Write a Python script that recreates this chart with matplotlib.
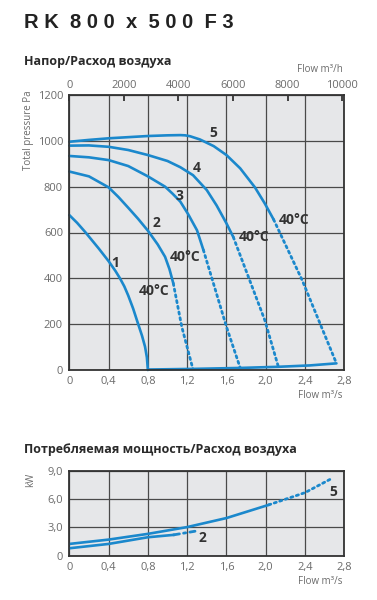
import matplotlib
matplotlib.use("Agg")
from matplotlib import pyplot as plt

plt.rcParams['font.family'] = ['Open Sans', 'DejaVu Sans']

# --- pressure / flow curves (flow m3/s, pressure Pa) ---
c1_q = [0, 0.08, 0.16, 0.3, 0.4, 0.47, 0.516, 0.56, 0.6, 0.65, 0.703, 0.74, 0.771, 0.79, 0.8]
c1_p = [676, 642, 603, 530, 475, 432, 400, 365, 325, 268, 198, 150, 102, 55, 0]

c2_q = [0, 0.2, 0.4, 0.5, 0.6, 0.7, 0.8, 0.9, 0.975, 1.02, 1.059]
c2_p = [866, 845, 797, 755, 708, 660, 608, 548, 494, 440, 378]
c2_dq = [1.059, 1.145, 1.26]
c2_dp = [378, 189, 2]

c3_q = [0, 0.2, 0.4, 0.6, 0.8, 0.975, 1.05, 1.13, 1.21, 1.3, 1.365]
c3_p = [934, 928, 916, 890, 845, 800, 770, 735, 680, 610, 524]
c3_dq = [1.365, 1.6, 1.738]
c3_dp = [524, 189, 12]

c4_q = [0, 0.2, 0.4, 0.6, 0.8, 1.0, 1.13, 1.26, 1.4, 1.5, 1.6, 1.67]
c4_p = [979, 980, 974, 960, 938, 912, 885, 850, 785, 718, 640, 580]
c4_dq = [1.67, 1.99, 2.13]
c4_dp = [580, 218, 12]

c5_q = [0, 0.2, 0.4, 0.6, 0.8, 1.0, 1.13, 1.18, 1.23, 1.33, 1.47, 1.6, 1.74, 1.89, 1.99, 2.08]
c5_p = [996, 1004, 1011, 1016, 1021, 1024, 1025, 1024, 1020, 1006, 977, 938, 880, 797, 727, 657]
c5_dq = [2.08, 2.37, 2.72]
c5_dp = [657, 393, 29]

sys_q = [0.8, 1.28, 1.74, 2.13, 2.45, 2.72]
sys_p = [2, 5, 9, 14, 20, 29]

# --- power / flow (kW) ---
w5_q = [0, 0.4, 0.8, 1.2, 1.6, 2.03]
w5_p = [1.25, 1.71, 2.32, 3.04, 4.0, 5.4]
w5_dq = [2.03, 2.4, 2.66]
w5_dp = [5.4, 6.7, 8.14]

w2_q = [0, 0.4, 0.8, 1.06]
w2_p = [0.79, 1.25, 1.96, 2.21]
w2_dq = [1.06, 1.28]
w2_dp = [2.21, 2.6]

x_ticks = [0, 0.4, 0.8, 1.2, 1.6, 2.0, 2.4, 2.8]
x_labels = ['0', '0,4', '0,8', '1,2', '1,6', '2,0', '2,4', '2,8']
p_ticks = [0, 200, 400, 600, 800, 1000, 1200]
kw_ticks = [0, 3, 6, 9]
kw_labels = ['0', '3,0', '6,0', '9,0']
mh_ticks = [0, 2000, 4000, 6000, 8000, 10000]

blue = '#1b88cc'
grey_txt = '#6b6b6b'
dark = '#333333'
face = '#e6e7e9'
dots = (0, (0.8, 1.3))

fig = plt.figure(figsize=(3.77, 6.0), dpi=100)
W, H = 377, 600


def style(ax):
    ax.set_facecolor(face)
    ax.grid(True, color='#4a4a4a', lw=0.9)
    ax.set_axisbelow(True)
    for s in ax.spines.values():
        s.set_color(dark)
        s.set_linewidth(1.3)
    ax.tick_params(length=0, labelsize=8, colors=grey_txt, pad=4.5)
    ax.set_xlim(0, 2.8)
    ax.set_xticks(x_ticks)
    ax.set_xticklabels(x_labels)


# top chart
ax = fig.add_axes([69.3 / W, 1 - 370 / H, 275 / W, 275 / H])
style(ax)
ax.set_ylim(0, 1200)
ax.set_yticks(p_ticks)

for q, p in [(c1_q, c1_p), (c2_q, c2_p), (c3_q, c3_p), (c4_q, c4_p), (c5_q, c5_p), (sys_q, sys_p)]:
    ax.plot(q, p, color=blue, lw=1.9, solid_capstyle='round', solid_joinstyle='round', clip_on=False)
for q, p in [(c2_dq, c2_dp), (c3_dq, c3_dp), (c4_dq, c4_dp), (c5_dq, c5_dp)]:
    ax.plot(q, p, color=blue, lw=2.0, ls=dots, dash_capstyle='round')

lab = dict(color=dark, fontsize=10, fontweight='bold', ha='center', va='center')
ax.text(0.47, 468, '1', **lab)
ax.text(0.883, 643, '2', **lab)
ax.text(1.12, 759, '3', **lab)
ax.text(1.297, 880, '4', **lab)
ax.text(1.47, 1035, '5', **lab)
ax.text(0.862, 346, '40°C', **lab)
ax.text(1.18, 494, '40°C', **lab)
ax.text(1.88, 579, '40°C', **lab)
ax.text(2.29, 654, '40°C', **lab)

top = ax.secondary_xaxis('top', functions=(lambda x: x * 3600, lambda x: x / 3600))
top.set_xticks(mh_ticks)
top.tick_params(direction='in', length=4, width=1.3, colors=dark, labelcolor=grey_txt,
                labelsize=8, pad=3)
top.spines['top'].set_visible(False)

# bottom chart
ax2 = fig.add_axes([69.3 / W, 1 - 555.7 / H, 275 / W, 84.7 / H])
style(ax2)
ax2.set_ylim(0, 9)
ax2.set_yticks(kw_ticks)
ax2.set_yticklabels(kw_labels)
ax2.plot(w5_q, w5_p, color=blue, lw=1.9, solid_joinstyle='round')
ax2.plot(w5_dq, w5_dp, color=blue, lw=2.0, ls=dots, dash_capstyle='round')
ax2.plot(w2_q, w2_p, color=blue, lw=1.9, solid_joinstyle='round')
ax2.plot(w2_dq, w2_dp, color=blue, lw=2.0, ls=(0, (2.2, 1.5, 0.8, 1.5)), dash_capstyle='round')
ax2.text(1.36, 1.9, '2', **lab)
ax2.text(2.69, 6.8, '5', **lab)

# figure texts
fig.text(24 / W, 1 - 22 / H, 'R K  8 0 0  x  5 0 0  F 3', fontsize=14.5, fontweight='bold',
         family='Liberation Sans', color='#222222', va='center', ha='left')
fig.text(24 / W, 1 - 62 / H, 'Напор/Расход воздуха', fontsize=9, fontweight='bold',
         color='#2a2a2a', va='center', ha='left')
fig.text(24 / W, 1 - 449 / H, 'Потребляемая мощность/Расход воздуха', fontsize=9,
         fontweight='bold', color='#2a2a2a', va='center', ha='left')
fig.text(343 / W, 1 - 69 / H, 'Flow m³/h', fontsize=7, color=grey_txt, ha='right', va='center')
fig.text(343 / W, 1 - 396 / H, 'Flow m³/s', fontsize=7, color=grey_txt, ha='right', va='center')
fig.text(343 / W, 1 - 582 / H, 'Flow m³/s', fontsize=7, color=grey_txt, ha='right', va='center')
fig.text(29 / W, 1 - 130 / H, 'Total pressure Pa', fontsize=7, color=grey_txt,
         rotation=90, ha='center', va='center')
fig.text(31 / W, 1 - 480 / H, 'kW', fontsize=7, color=grey_txt, rotation=90,
         ha='center', va='center')

plt.savefig('out.png', dpi=100)
